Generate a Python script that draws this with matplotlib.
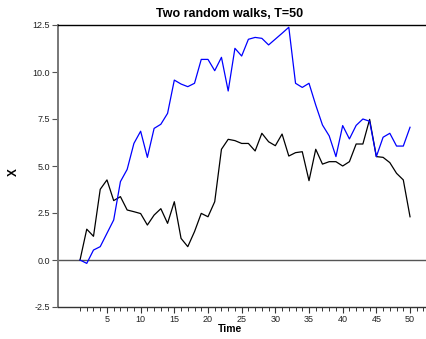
import matplotlib
matplotlib.use("Agg")
import matplotlib.pyplot as plt
import numpy as np

plt.rcParams['font.family'] = ['Liberation Sans', 'DejaVu Sans']

# two random walks observed at t = 1..50
time = list(range(1, 51))
walk_blue = [0.00, -0.18, 0.53, 0.71, 1.42, 2.13, 4.17, 4.82, 6.20, 6.85,
             5.46, 7.00, 7.22, 7.80, 9.57, 9.36, 9.22, 9.40, 10.67, 10.67,
             10.07, 10.78, 8.99, 11.26, 10.85, 11.74, 11.84, 11.79, 11.44, 11.75,
             12.06, 12.38, 9.40, 9.18, 9.40, 8.24, 7.18, 6.60, 5.50, 7.15,
             6.44, 7.16, 7.50, 7.38, 5.50, 6.53, 6.74, 6.06, 6.06, 7.06]
walk_black = [0.00, 1.64, 1.26, 3.76, 4.26, 3.16, 3.37, 2.66, 2.57, 2.47,
              1.86, 2.39, 2.73, 1.95, 3.10, 1.15, 0.71, 1.51, 2.48, 2.30,
              3.10, 5.89, 6.42, 6.35, 6.20, 6.20, 5.80, 6.74, 6.29, 6.08,
              6.70, 5.53, 5.71, 5.76, 4.22, 5.89, 5.10, 5.23, 5.23, 5.00,
              5.23, 6.17, 6.17, 7.48, 5.50, 5.46, 5.18, 4.61, 4.26, 2.30]

y_ticks = [-2.5, 0.0, 2.5, 5.0, 7.5, 10.0, 12.5]
x_major = [5, 10, 15, 20, 25, 30, 35, 40, 45, 50]
x_minor = list(range(1, 53))

W, H = 427, 339
fig = plt.figure(figsize=(W / 100, H / 100), dpi=100)
ax = fig.add_axes([58 / W, (H - 307) / H, (W - 58) / W, (307 - 25) / H])

ax.plot(time, walk_black, color='black', lw=0.9)
ax.plot(time, walk_blue, color='#0000ff', lw=0.9)
ax.axhline(0, color='#555555', lw=1.0, zorder=0)

ax.set_xlim(-2.27, 52.52)
ax.set_ylim(-2.5, 12.5)

ax.set_yticks(y_ticks)
ax.set_yticklabels([f"{v:.1f}" for v in y_ticks])
ax.set_xticks(x_major)
ax.set_xticklabels([str(v) for v in x_major])
ax.set_xticks(x_minor, minor=True)

ax.spines['right'].set_visible(False)
ax.spines['top'].set_color('black')
ax.spines['top'].set_linewidth(1.0)
ax.spines['bottom'].set_color('#333333')
ax.spines['bottom'].set_linewidth(1.0)
ax.spines['left'].set_color('#777777')
ax.spines['left'].set_linewidth(1.4)

ax.tick_params(axis='y', direction='out', length=4, width=0.8, color='#555555',
               labelsize=6.5, pad=2, labelcolor='#222222')
ax.tick_params(axis='x', which='major', direction='out', length=4, width=0.8,
               color='#333333', labelsize=6.5, pad=1.5, labelcolor='#222222')
ax.tick_params(axis='x', which='minor', direction='out', length=3, width=0.7,
               color='#333333')

fig.text(230 / W, 1 - 14 / H, "Two random walks, T=50", ha='center', va='center',
         fontsize=9, fontweight='bold')
fig.text(230 / W, 1 - 329 / H, "Time", ha='center', va='center',
         fontsize=7.5, fontweight='bold')
fig.text(14 / W, 1 - 172 / H, "X", ha='center', va='center',
         fontsize=8.5, fontweight='bold', rotation=90)

fig.savefig("out.png", dpi=100)
